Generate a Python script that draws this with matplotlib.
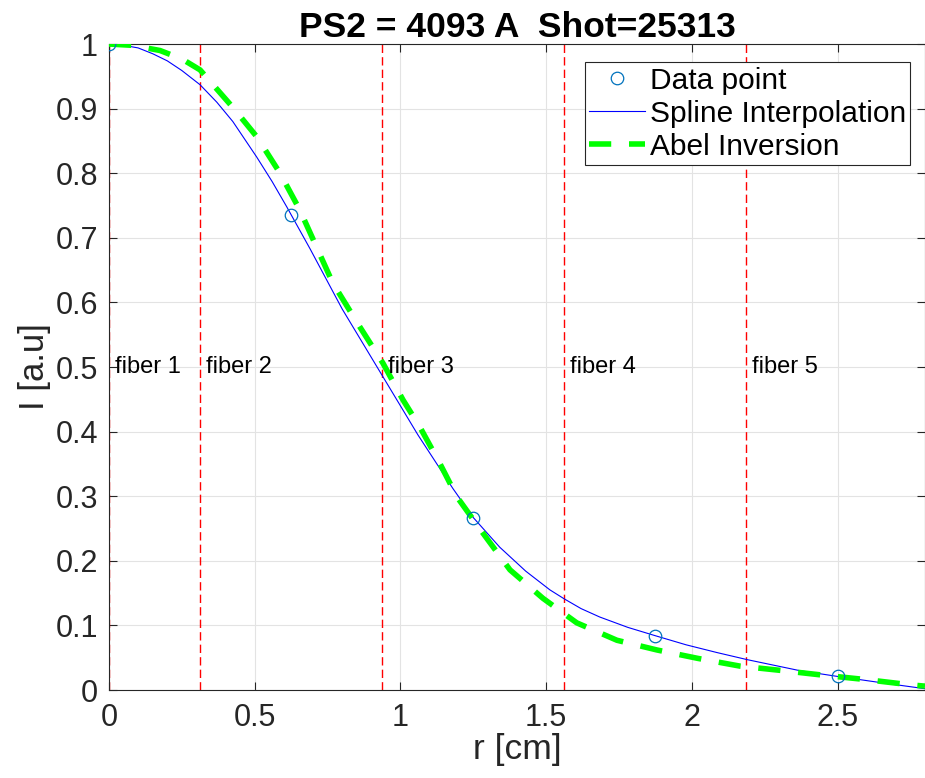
import matplotlib
matplotlib.use("Agg")
import matplotlib.pyplot as plt

# measured data points
r_data = [0, 0.625, 1.25, 1.875, 2.5]
i_data = [1.0, 0.735, 0.267, 0.084, 0.021]

# spline curve
r_spline = [0, 0.05, 0.1, 0.15, 0.2, 0.25, 0.3125, 0.37, 0.425, 0.507, 0.56, 0.61, 0.69, 0.8,
            0.94, 1.06, 1.18, 1.25, 1.341, 1.43, 1.513, 1.5625, 1.62, 1.684, 1.78, 1.875,
            1.98, 2.086, 2.19, 2.37, 2.5, 2.655, 2.8]
i_spline = [1.0, 0.998, 0.994, 0.985, 0.974, 0.959, 0.937, 0.910, 0.880, 0.825, 0.787, 0.748,
            0.683, 0.59, 0.485, 0.395, 0.312, 0.267, 0.221, 0.184, 0.155, 0.141, 0.126, 0.113,
            0.097, 0.084, 0.070, 0.058, 0.047, 0.030, 0.021, 0.011, 0.002]

# Abel inversion curve
r_abel = [0, 0.08, 0.175, 0.25, 0.3125, 0.425, 0.508, 0.587, 0.655, 0.768, 0.861, 0.94,
          1.009, 1.067, 1.135, 1.194, 1.283, 1.376, 1.489, 1.605, 1.743, 1.88, 2.02, 2.165,
          2.312, 2.45, 2.6, 2.75, 2.8]
i_abel = [1.0, 0.998, 0.99, 0.977, 0.96, 0.902, 0.856, 0.80, 0.743, 0.63, 0.562, 0.506,
          0.449, 0.407, 0.351, 0.299, 0.243, 0.186, 0.142, 0.104, 0.077, 0.062, 0.049, 0.037,
          0.030, 0.023, 0.016, 0.008, 0.006]

# fiber boundaries
fiber_r = [0, 0.3125, 0.9375, 1.5625, 2.1875]
fiber_names = ["fiber 1", "fiber 2", "fiber 3", "fiber 4", "fiber 5"]

plt.rcParams['font.family'] = ['Liberation Sans', 'DejaVu Sans']
dark = '#262626'

fig = plt.figure(figsize=(9.25, 7.78), dpi=100)
ax = fig.add_axes([0.1178, 0.1131, 0.8822, 0.8303])

ax.grid(True, color='#e3e3e3', linewidth=0.8)
ax.set_axisbelow(True)

for fr, name in zip(fiber_r, fiber_names):
    ax.axvline(fr, color='red', linestyle=(0, (6, 3)), linewidth=1.0, zorder=2)
    ax.text(fr + 0.02, 0.5, name, fontsize=17, va='center', ha='left', zorder=5)

ax.plot(r_data, i_data, 'o', mfc='none', mec='#0072bd', ms=9, mew=0.9,
        label='Data point', zorder=4)
ax.plot(r_spline, i_spline, color='blue', linewidth=0.8,
        label='Spline Interpolation', zorder=3)
ax.plot(r_abel, i_abel, color='#00ff00', linewidth=4, linestyle=(0, (4, 3.2)),
        label='Abel Inversion', zorder=3)

ax.set_xlim(0, 2.8)
ax.set_ylim(0, 1)
ax.set_xticks([0, 0.5, 1, 1.5, 2, 2.5])
ax.set_xticklabels(['0', '0.5', '1', '1.5', '2', '2.5'])
ax.set_yticks([i / 10 for i in range(11)])
ax.set_yticklabels(['0', '0.1', '0.2', '0.3', '0.4', '0.5', '0.6', '0.7', '0.8', '0.9', '1'])
ax.tick_params(direction='in', labelsize=22, length=6, color=dark, labelcolor=dark,
               top=True, right=True)
ax.tick_params(axis='x', pad=9)
ax.tick_params(axis='y', pad=8)
for s in ax.spines.values():
    s.set_color(dark)

ax.set_xlabel('r [cm]', fontsize=25.5, labelpad=0, color=dark)
ax.set_ylabel('I [a.u]', fontsize=25, labelpad=3, color=dark)
ax.set_title('PS2 = 4093 A  Shot=25313', fontsize=25.5, fontweight='bold', pad=5)

leg = ax.legend(loc='upper right', bbox_to_anchor=(0.982, 0.972), fontsize=21.5,
                frameon=True, fancybox=False, edgecolor=dark, framealpha=1,
                handlelength=1.85, handletextpad=0.17, borderpad=0.15, labelspacing=0.17,
                borderaxespad=0)
leg.get_frame().set_linewidth(0.8)

fig.savefig('out.png', dpi=100)
